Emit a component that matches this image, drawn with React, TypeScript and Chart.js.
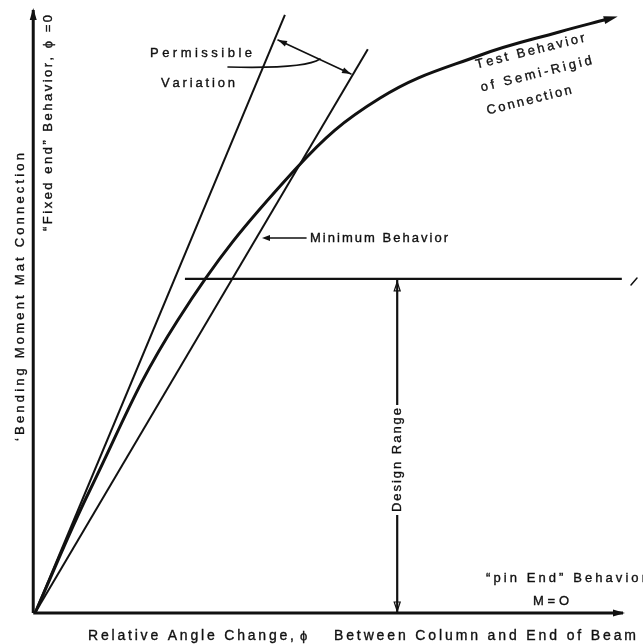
import React, { useEffect, useRef } from 'react';
import { Chart, registerables } from 'chart.js';

Chart.register(...registerables);

// ---- data (normalised units: angle change 0..100, moment 0..100) ----
const upperLineX = [0, 42.5];
const upperLineY = [0, 99.2];
const minimumLineX = [0, 56.6];
const minimumLineY = [0, 93.5];
const testCurveX = [0, 9.35, 24.3, 44.2, 58.7, 75.7, 89.3, 97.4];
const testCurveY = [0, 20.4, 48.6, 73.5, 85.4, 92.5, 96.4, 98.5];
const designLevel = 55.4;
const designLineX = [25.5, 99.8];
const designArrowX = 61.6;
const axisX = [-0.3, 100];
const axisY = [0, 100];

const FONT = '"Liberation Sans", Arial, Helvetica, sans-serif';
const INK = '#111111';

function pts(xs: number[], ys: number[]) {
  return xs.map((x, i) => ({ x, y: ys[i] }));
}

function arrowHead(ctx: CanvasRenderingContext2D, fx: number, fy: number, tx: number, ty: number, len: number, half: number, filled = true) {
  const a = Math.atan2(ty - fy, tx - fx);
  const bx = tx - len * Math.cos(a);
  const by = ty - len * Math.sin(a);
  const nx = -Math.sin(a) * half;
  const ny = Math.cos(a) * half;
  ctx.beginPath();
  ctx.moveTo(tx, ty);
  ctx.lineTo(bx + nx, by + ny);
  ctx.lineTo(bx - nx, by - ny);
  ctx.closePath();
  if (filled) ctx.fill();
  else ctx.stroke();
}

// draw text char by char so that it spans the given width
function fitText(ctx: CanvasRenderingContext2D, text: string, x: number, y: number, width: number, size: number, angle = 0) {
  ctx.save();
  ctx.translate(x, y);
  ctx.rotate(angle);
  ctx.font = `${size}px ${FONT}`;
  ctx.textBaseline = 'middle';
  ctx.textAlign = 'left';
  ctx.lineWidth = 0.35;
  const chars = Array.from(text);
  const widths = chars.map((c) => ctx.measureText(c).width);
  const natural = widths.reduce((s, w) => s + w, 0);
  const sp = chars.length > 1 ? (width - natural) / (chars.length - 1) : 0;
  let cx = 0;
  chars.forEach((c, i) => {
    ctx.fillText(c, cx, 0);
    ctx.strokeText(c, cx, 0);
    cx += widths[i] + sp;
  });
  ctx.restore();
}

const decor = {
  id: 'decor',
  afterDatasetsDraw(chart: any) {
    const ctx: CanvasRenderingContext2D = chart.ctx;
    const xs = chart.scales.x;
    const ys = chart.scales.y;
    const px = (v: number) => xs.getPixelForValue(v);
    const py = (v: number) => ys.getPixelForValue(v);
    ctx.save();
    ctx.fillStyle = INK;
    ctx.strokeStyle = INK;
    ctx.lineCap = 'round';

    // axis arrowheads
    arrowHead(ctx, px(axisX[0]), py(axisY[0]), px(axisX[0]), py(axisY[1]) - 2, 12, 3.5);
    arrowHead(ctx, px(axisX[0]), py(0), px(axisX[1]) + 2, py(0), 12, 3.5);

    // test curve arrowhead
    const n = testCurveX.length;
    arrowHead(ctx, px(testCurveX[n - 2]), py(testCurveY[n - 2]), px(testCurveX[n - 1]) + 10, py(testCurveY[n - 1]) - 2.5, 14, 4);

    // design range arrowheads
    ctx.lineWidth = 1.2;
    arrowHead(ctx, px(designArrowX), py(designLevel) + 14, px(designArrowX), py(designLevel) + 3, 9, 3, false);
    arrowHead(ctx, px(designArrowX), py(0) - 14, px(designArrowX), py(0) - 2, 9, 3, false);

    // slash after design line
    ctx.lineWidth = 1.5;
    ctx.beginPath();
    ctx.moveTo(631, 285);
    ctx.lineTo(637, 278);
    ctx.stroke();

    // permissible variation bracket
    ctx.lineWidth = 1.6;
    ctx.beginPath();
    ctx.moveTo(278, 40);
    ctx.lineTo(351, 74);
    ctx.stroke();
    arrowHead(ctx, 351 - 20, 74 - 9.3, 351, 74, 9, 3);
    arrowHead(ctx, 278 + 20, 40 + 9.3, 278, 40, 9, 3);
    ctx.beginPath();
    ctx.moveTo(228, 67);
    ctx.quadraticCurveTo(305, 69, 320, 59);
    ctx.stroke();

    // minimum behaviour leader
    ctx.beginPath();
    ctx.moveTo(306, 238);
    ctx.lineTo(266, 238);
    ctx.stroke();
    arrowHead(ctx, 280, 238, 262, 238, 8, 3);

    // design range label with white gap
    ctx.fillStyle = '#ffffff';
    ctx.fillRect(px(designArrowX) - 8, 405, 16, 110);
    ctx.fillStyle = INK;
    fitText(ctx, 'Design Range', px(designArrowX), 512, 104, 13, -Math.PI / 2);

    // texts
    fitText(ctx, 'Permissible', 150, 53, 102, 13);
    fitText(ctx, 'Variation', 161, 83, 74, 13);
    fitText(ctx, 'Minimum Behavior', 310, 238, 138, 13);
    const ang = -14 * Math.PI / 180;
    fitText(ctx, 'Test Behavior', 476, 65, 112, 13, ang);
    fitText(ctx, 'of Semi-Rigid', 481, 88, 114, 13, ang);
    fitText(ctx, 'Connection', 487, 111, 87, 13, ang);
    fitText(ctx, '\u201Cpin End\u201D Behavior', 486, 578, 160, 13);
    fitText(ctx, 'M=O', 533, 601, 36, 13);
    fitText(ctx, 'Relative Angle Change,', 88, 636, 206, 14);
    fitText(ctx, '\u03D5', 300, 636, 8, 13);
    fitText(ctx, 'Between Column and End of Beam', 334, 636, 302, 14);
    fitText(ctx, '\u2018Bending Moment Mat Connection', 20, 441, 288, 13, -Math.PI / 2);
    fitText(ctx, '\u201CFixed end\u201D Behavior, \u03D5 =0', 48, 231, 216, 13, -Math.PI / 2);

    ctx.restore();
  },
};

export default function App() {
  const ref = useRef<HTMLCanvasElement | null>(null);
  useEffect(() => {
    if (!ref.current) return;
    const line = (data: any[], width: number, extra: any = {}) => ({
      data,
      borderColor: INK,
      borderWidth: width,
      pointRadius: 0,
      fill: false,
      clip: false,
      tension: 0,
      ...extra,
    });
    const chart = new Chart(ref.current, {
      type: 'line',
      data: {
        datasets: [
          line(pts([axisX[0], axisX[0]], axisY), 3),
          line(pts(axisX, [0, 0]), 3),
          line(pts(upperLineX, upperLineY), 2),
          line(pts(minimumLineX, minimumLineY), 2),
          line(pts(testCurveX, testCurveY), 3, { tension: 0.4 }),
          line(pts(designLineX, [designLevel, designLevel]), 2.2),
          line(pts([designArrowX, designArrowX], [designLevel, 0]), 2.2),
        ],
      },
      options: {
        animation: false,
        responsive: true,
        maintainAspectRatio: false,
        layout: { padding: { left: 35, right: 20, top: 10, bottom: 31 } },
        plugins: { legend: { display: false }, tooltip: { enabled: false } },
        scales: {
          x: { type: 'linear', min: 0, max: 100, display: false },
          y: { type: 'linear', min: 0, max: 100, display: false },
        },
      },
      plugins: [decor],
    });
    return () => chart.destroy();
  }, []);
  return (
    <div style={{ position: 'fixed', left: 0, top: 0, width: 643, height: 644, background: '#ffffff' }}>
      <canvas ref={ref} />
    </div>
  );
}
